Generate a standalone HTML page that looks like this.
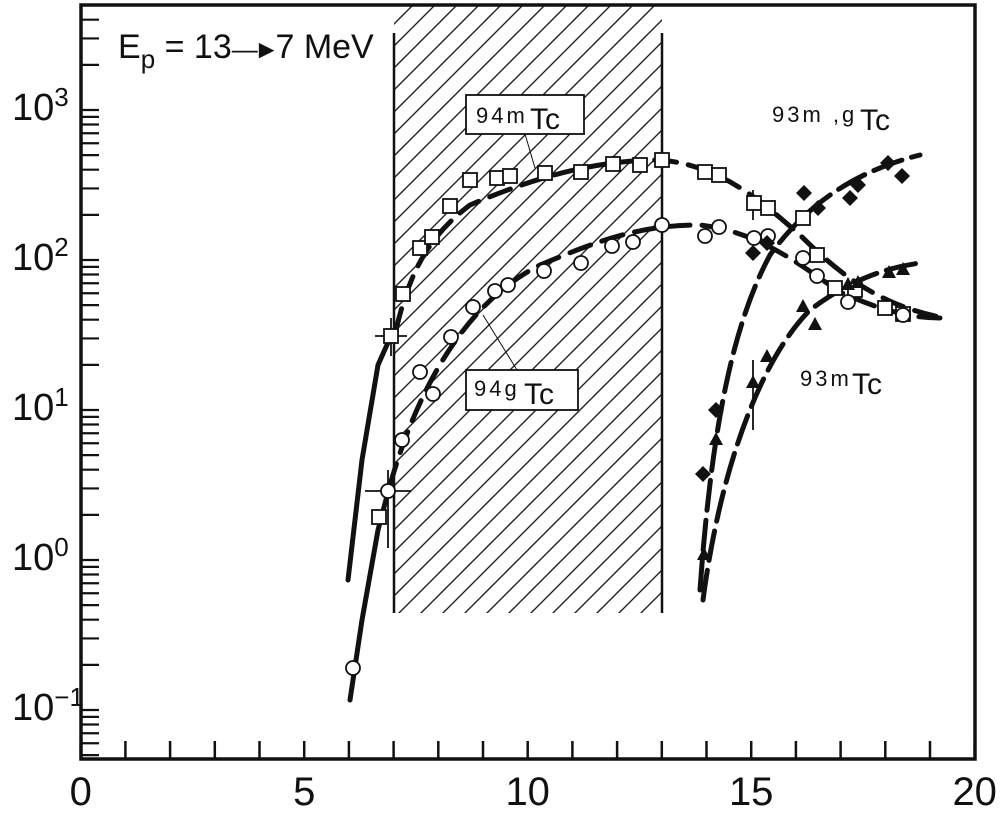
<!DOCTYPE html>
<html><head><meta charset="utf-8"><style>
body{margin:0;background:#fff}
svg{display:block}
text{font-family:"Liberation Sans",sans-serif;fill:#111}
</style></head><body>
<svg id="s" width="1000" height="814" xmlns="http://www.w3.org/2000/svg">
<defs>
<pattern id="h" patternUnits="userSpaceOnUse" width="22" height="22">
<path d="M-5,27 L27,-5 M-16,16 L16,-16 M6,38 L38,6" stroke="#222" stroke-width="1.4"/>
</pattern>
<clipPath id="c"><rect x="81" y="5" width="894" height="754"/></clipPath>
</defs>
<rect x="394" y="5" width="268" height="608" fill="url(#h)"/>
<line x1="394" y1="33" x2="394" y2="613" stroke="#111" stroke-width="2.5"/>
<line x1="662" y1="33" x2="662" y2="613" stroke="#111" stroke-width="2.5"/>
<g id="g" clip-path="url(#c)"></g>
<rect x="81" y="5" width="894" height="754" fill="none" stroke="#111" stroke-width="3.5"/>
<rect x="466" y="95" width="118" height="39" fill="#fff" stroke="#111" stroke-width="1.8"/>
<text x="476" y="123" font-size="22" letter-spacing="3">94m</text><text x="530" y="129" font-size="30">Tc</text>
<line x1="525" y1="134" x2="535" y2="168" stroke="#111" stroke-width="1"/>
<rect x="466" y="370" width="112" height="40" fill="#fff" stroke="#111" stroke-width="1.8"/>
<text x="474" y="396" font-size="22" letter-spacing="3">94g</text><text x="524" y="404" font-size="30">Tc</text>
<line x1="517" y1="370" x2="483" y2="315" stroke="#111" stroke-width="1"/>
<text x="772" y="122" font-size="22" letter-spacing="3">93m ,g</text><text x="860" y="130" font-size="30">Tc</text>
<text x="800" y="386" font-size="22" letter-spacing="3">93m</text><text x="852" y="394" font-size="30">Tc</text>
<text x="118" y="58" font-size="34">E<tspan font-size="26" dy="10">p</tspan><tspan dy="-10"> = 13</tspan><tspan font-size="26" letter-spacing="-4">—►</tspan>7 MeV</text>
</svg>
<script>
var s=document.getElementById('s'),g=document.getElementById('g'),NS="http://www.w3.org/2000/svg";
function el(p,t,a){var e=document.createElementNS(NS,t);for(var k in a)e.setAttribute(k,a[k]);p.appendChild(e);return e}
function txt(x,y,str,fs,anc){var e=el(s,'text',{x:x,y:y,'font-size':fs,'text-anchor':anc||'start'});e.textContent=str;return e}
for(var i=0;i<=20;i++){var x=80.7+44.7*i;el(s,'line',{x1:x,y1:759,x2:x,y2:741,stroke:'#111','stroke-width':2.5});}
[0,5,10,15,20].forEach(function(v){txt(80.7+44.7*v,805,String(v),40,'middle')});
for(var d=-2;d<=3;d++){for(var k=1;k<=9;k++){var y=560-150*(d+Math.log10(k));if(y<8||y>756)continue;
el(s,'line',{x1:81,y1:y,x2:99,y2:y,stroke:'#111','stroke-width':2.2});}}
[3,2,1,0,-1].forEach(function(d){var y=560-150*d+10;var t=txt(12,y,'10',38);var sp=document.createElementNS(NS,'tspan');sp.setAttribute('font-size',26);sp.setAttribute('dy',-14);sp.textContent=(d<0?'−1':String(d));t.appendChild(sp);});
function curve(d,dash){el(g,'path',{d:d,fill:'none',stroke:'#111','stroke-width':5,'stroke-dasharray':dash||'none','stroke-linecap':'round'})}
curve('M348,580 L362,460 L378,365 L390,338');
curve('M396,330 C410,270 430,235 470,205 C540,175 600,160 660,160 C720,165 760,200 800,235 C840,275 880,305 940,317','22,12');
curve('M350,700 L362,620 L378,530 L388,492');
curve('M390,485 C420,380 470,300 540,265 C600,240 640,225 700,225 C760,232 800,265 840,292 C880,310 910,318 940,318','22,12');
curve('M700,590 C712,420 735,320 770,255 C810,200 860,170 920,155','30,10');
curve('M703,600 C720,470 760,360 810,310 C850,280 885,268 920,263','30,10');
function ln(a,b,c,d){el(g,'line',{x1:a,y1:b,x2:c,y2:d,stroke:'#111','stroke-width':1.8})}
ln(375,336,407,336);ln(391,318,391,356);ln(365,491,411,491);ln(388,470,388,548);ln(753,360,753,430);ln(753,190,753,220);
var sq=[[379,517],[391,336],[403,294],[420,248],[432,237],[450,206],[470,180],[497,178],[510,176],[545,173],[581,172],[613,164],[640,165],[662,160],[705,172],[719,175],[754,203],[768,208],[803,218],[817,255],[835,288],[855,290],[885,308],[903,314]];
sq.forEach(function(p){el(g,'rect',{x:p[0]-7,y:p[1]-7,width:14,height:14,fill:'#fff',stroke:'#111','stroke-width':1.8})});
var ci=[[353,668],[388,491],[402,440],[420,372],[433,394],[451,337],[473,307],[495,291],[508,285],[544,271],[581,263],[612,246],[633,242],[662,225],[705,236],[719,227],[754,238],[768,236],[803,258],[817,276],[848,302],[903,315]];
ci.forEach(function(p){el(g,'circle',{cx:p[0],cy:p[1],r:7,fill:'#fff',stroke:'#111','stroke-width':1.8})});
var di=[[703,474],[716,410],[753,253],[767,243],[804,193],[818,208],[850,198],[858,185],[888,163],[902,176]];
di.forEach(function(p){el(g,'path',{d:'M'+p[0]+','+(p[1]-8)+' l8,8 l-8,8 l-8,-8z',fill:'#111'})});
var tr=[[704,555],[716,440],[753,383],[767,357],[803,307],[815,325],[848,285],[858,283],[889,273],[903,270]];
tr.forEach(function(p){el(g,'path',{d:'M'+p[0]+','+(p[1]-8)+' l7,13 l-14,0z',fill:'#111'})});
</script>
</body></html>
